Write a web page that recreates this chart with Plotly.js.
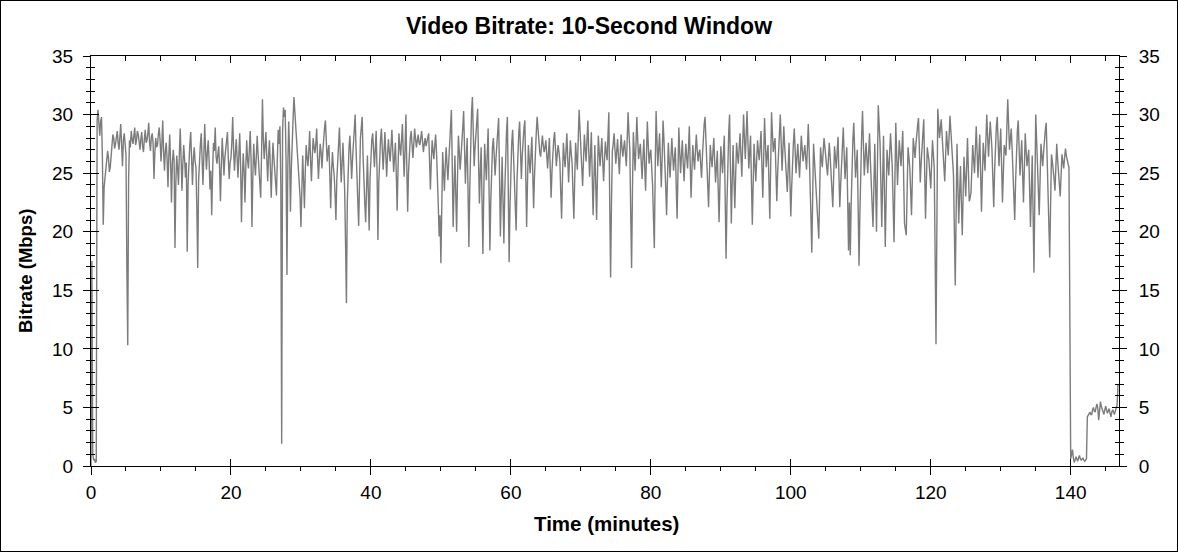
<!DOCTYPE html>
<html>
<head>
<meta charset="utf-8">
<script src="https://cdn.plot.ly/plotly-3.0.1.min.js"></script>
<style>
  html, body { margin: 0; padding: 0; background: #fff; }
  #wrap { position: relative; width: 1178px; height: 552px; }
  #chart { position: absolute; left: 0; top: 0; width: 1178px; height: 552px; }
  #frame { position: absolute; left: 0; top: 0; width: 1178px; height: 552px;
           box-sizing: border-box; border: 1px solid #000; pointer-events: none; }
</style>
</head>
<body>
<div id="wrap"><div id="chart"></div><div id="frame"></div></div>
<script>
// Video bitrate (Mbps), one sample every 7.5 s (0.125 min) (8 samples per minute per row)
const sampleStepMin = 0.125;
const bitrate = [
  0, 17.5, 1.0, 0.5, 0.6, 0.3, 0.4, 29.5,
  30.4, 29.1, 28.2, 29.4, 29.8, 26.5, 20.6, 23.8,
  24.5, 25.2, 25.8, 26.9, 26.3, 25.1, 25.5, 26.8,
  27.2, 28.3, 28.0, 27.1, 27.5, 28.2, 28.6, 27.6,
  27.0, 28.1, 29.2, 27.4, 25.6, 27.8, 28.4, 27.5,
  26.5, 17.0, 10.3, 24.5, 27.8, 27.2, 28.6, 27.9,
  27.5, 28.2, 28.9, 27.4, 27.8, 28.6, 28.3, 27.7,
  27.0, 27.9, 28.5, 27.3, 26.8, 27.9, 28.7, 27.6,
  27.8, 28.4, 29.3, 27.6, 26.9, 28.1, 28.4, 27.5,
  24.5, 26.8, 28.0, 27.2, 27.4, 28.3, 28.9, 27.8,
  26.0, 27.4, 29.5, 26.8, 25.2, 26.9, 27.6, 26.2,
  23.8, 26.5, 28.3, 25.9, 22.5, 25.8, 27.0, 26.1,
  18.6, 24.2, 26.5, 25.4, 24.0, 26.6, 28.8, 26.3,
  23.5, 25.8, 27.4, 26.2, 24.6, 25.9, 18.3, 24.1,
  26.8, 27.5, 28.5, 26.4, 24.0, 26.2, 27.2, 26.0,
  25.5, 22.0, 16.9, 24.3, 26.8, 27.4, 28.4, 26.7,
  24.0, 26.5, 29.2, 26.9, 25.3, 26.8, 27.8, 26.1,
  23.6, 25.2, 21.4, 25.0, 27.6, 26.9, 28.9, 26.4,
  25.8, 26.6, 27.3, 25.4, 22.6, 25.7, 28.0, 26.5,
  24.8, 26.3, 27.1, 27.8, 28.5, 26.2, 24.5, 25.9,
  26.3, 27.6, 29.8, 27.0, 25.2, 26.6, 27.9, 26.4,
  24.6, 26.5, 28.4, 25.8, 20.8, 24.4, 26.7, 25.3,
  22.5, 25.6, 27.8, 26.1, 25.4, 26.9, 28.6, 26.2,
  20.4, 24.6, 27.5, 25.9, 24.8, 26.5, 28.2, 26.6,
  25.6, 24.1, 22.9, 26.8, 31.3, 27.9, 26.2, 27.4,
  28.5, 26.2, 24.3, 26.5, 27.8, 25.6, 22.9, 25.4,
  27.6, 26.4, 25.4, 24.6, 23.1, 26.2, 28.7, 27.5,
  29.0, 24.0, 1.9, 28.5, 30.6, 29.8, 30.4, 26.0,
  16.3, 25.5, 29.4, 26.8, 21.7, 25.4, 28.8, 29.6,
  31.5, 30.2, 29.0, 27.8, 27.2, 25.9, 24.6, 23.0,
  20.4, 23.6, 26.5, 24.4, 22.0, 25.2, 27.4, 26.3,
  25.6, 26.9, 28.6, 26.1, 24.3, 26.4, 28.0, 27.2,
  26.7, 27.5, 28.8, 26.4, 24.5, 26.1, 27.5, 26.8,
  25.4, 26.8, 28.3, 28.9, 29.5, 27.4, 26.0, 26.9,
  27.4, 24.8, 22.0, 25.1, 26.8, 25.6, 24.8, 23.2,
  21.0, 24.4, 26.3, 27.5, 28.9, 26.5, 24.2, 25.8,
  27.6, 25.6, 23.5, 19.0, 13.9, 22.5, 26.4, 27.3,
  28.2, 26.4, 24.5, 26.2, 27.6, 28.8, 30.0, 27.1,
  24.0, 22.6, 20.5, 25.3, 28.0, 28.9, 29.8, 26.5,
  23.5, 22.4, 20.8, 24.1, 26.5, 23.4, 20.1, 24.6,
  27.2, 27.8, 28.4, 26.8, 25.5, 27.1, 28.6, 25.2,
  19.3, 24.2, 27.0, 27.9, 28.8, 26.9, 25.3, 26.9,
  28.5, 26.6, 24.7, 26.5, 27.9, 26.8, 26.0, 27.3,
  28.7, 26.9, 25.1, 26.4, 27.6, 24.9, 21.8, 25.4,
  28.4, 27.3, 26.5, 27.8, 29.2, 26.8, 24.7, 27.0,
  30.0, 25.6, 21.7, 25.1, 27.5, 28.0, 28.6, 27.4,
  26.3, 27.5, 28.8, 27.9, 27.2, 27.8, 28.3, 27.6,
  27.4, 28.0, 28.6, 27.7, 26.8, 27.5, 28.0, 27.3,
  27.6, 28.0, 28.4, 26.1, 23.6, 25.9, 27.8, 26.9,
  26.2, 27.4, 28.3, 26.8, 25.0, 22.3, 19.6, 21.4,
  17.3, 22.6, 26.8, 25.2, 23.5, 25.6, 27.2, 25.7,
  24.4, 26.0, 27.8, 29.2, 30.4, 25.5, 20.4, 23.7,
  26.5, 23.2, 20.0, 24.6, 28.2, 26.9, 25.3, 26.4,
  27.4, 28.9, 30.3, 27.0, 24.1, 26.2, 28.0, 23.5,
  18.7, 23.6, 28.3, 30.1, 31.5, 28.4, 25.6, 27.1,
  28.6, 29.5, 30.5, 26.3, 22.4, 25.0, 27.2, 22.8,
  18.1, 23.2, 27.5, 25.8, 24.4, 26.7, 28.8, 24.0,
  18.4, 22.5, 26.2, 27.3, 28.0, 26.2, 24.8, 26.3,
  27.6, 28.7, 29.7, 24.8, 19.6, 23.1, 26.4, 22.6,
  19.0, 23.4, 27.2, 28.5, 29.8, 23.3, 17.4, 22.2,
  26.8, 27.6, 28.7, 26.2, 24.0, 22.1, 20.1, 24.3,
  27.5, 28.4, 29.4, 26.8, 24.5, 26.5, 28.3, 28.9,
  29.5, 24.8, 20.4, 24.2, 27.4, 26.1, 25.0, 26.6,
  28.1, 25.0, 22.0, 24.8, 27.2, 28.4, 29.8, 28.5,
  27.5, 26.8, 26.4, 27.3, 28.2, 27.4, 26.8, 27.2,
  27.8, 26.5, 25.4, 26.8, 28.0, 25.4, 22.9, 25.2,
  27.1, 27.9, 28.5, 26.9, 25.6, 26.6, 27.4, 26.8,
  26.0, 23.4, 21.1, 24.6, 27.6, 26.4, 25.5, 26.9,
  28.4, 26.2, 24.2, 26.1, 27.8, 26.7, 25.8, 23.4,
  21.1, 24.5, 27.6, 26.3, 25.3, 27.9, 30.4, 28.8,
  27.6, 25.5, 23.9, 26.2, 28.3, 27.1, 26.0, 27.8,
  29.5, 26.9, 24.7, 26.5, 28.5, 24.8, 21.4, 24.6,
  27.4, 24.1, 21.0, 24.8, 28.2, 26.8, 25.6, 26.9,
  28.0, 26.0, 24.3, 26.1, 27.7, 26.8, 26.1, 28.2,
  30.2, 22.5, 16.1, 22.4, 26.9, 27.5, 28.4, 27.0,
  25.8, 26.9, 27.9, 26.3, 24.9, 26.7, 28.3, 27.2,
  26.4, 27.2, 27.8, 26.6, 25.6, 27.9, 30.2, 28.4,
  27.0, 21.5, 16.9, 23.6, 28.5, 26.8, 25.2, 27.4,
  29.8, 27.9, 26.2, 26.9, 27.5, 26.0, 24.5, 26.3,
  27.9, 25.6, 23.5, 26.4, 29.4, 27.5, 25.8, 26.6,
  27.0, 25.4, 24.0, 21.2, 18.6, 25.3, 30.3, 27.8,
  25.6, 27.1, 28.4, 26.0, 23.8, 26.6, 29.5, 27.8,
  26.3, 23.8, 21.4, 24.6, 27.6, 26.0, 24.6, 26.3,
  28.0, 26.5, 25.2, 26.3, 27.2, 24.0, 21.1, 25.0,
  28.9, 26.8, 25.0, 26.5, 27.8, 25.9, 24.3, 26.1,
  27.5, 26.3, 25.4, 27.1, 29.0, 25.8, 22.9, 25.4,
  27.4, 26.2, 25.3, 26.9, 28.3, 27.0, 26.0, 26.7,
  27.0, 25.7, 24.6, 26.5, 28.4, 29.2, 29.8, 27.6,
  25.8, 23.9, 22.1, 24.9, 27.4, 26.3, 25.5, 26.8,
  28.0, 26.0, 24.2, 25.6, 26.9, 23.7, 20.8, 24.1,
  27.3, 26.1, 25.0, 26.7, 28.2, 22.8, 17.7, 22.3,
  26.6, 28.4, 30.0, 25.1, 20.7, 24.2, 27.4, 24.6,
  22.0, 24.9, 27.6, 26.6, 25.8, 27.2, 28.4, 26.5,
  24.7, 27.4, 30.0, 28.0, 26.2, 28.3, 30.3, 27.7,
  25.4, 26.8, 28.2, 24.3, 20.6, 24.1, 27.5, 25.8,
  24.3, 26.1, 27.8, 26.8, 26.1, 27.4, 28.6, 25.6,
  22.9, 26.3, 29.7, 27.5, 25.5, 26.6, 27.4, 24.2,
  21.1, 25.6, 30.2, 28.4, 26.8, 27.5, 28.0, 25.2,
  22.6, 25.0, 27.3, 28.6, 30.0, 27.6, 25.2, 27.0,
  29.0, 27.3, 25.8, 24.6, 23.4, 25.5, 27.6, 24.3,
  21.3, 23.8, 26.4, 27.6, 28.8, 26.9, 25.0, 26.3,
  27.5, 26.0, 24.6, 26.4, 28.2, 27.1, 26.0, 26.7,
  27.4, 26.3, 25.3, 27.2, 29.2, 26.9, 24.8, 21.4,
  18.2, 22.9, 27.5, 26.2, 25.0, 23.5, 22.0, 20.6,
  19.4, 23.3, 27.2, 26.3, 25.5, 26.8, 28.0, 27.2,
  26.4, 25.6, 24.8, 26.2, 27.6, 26.4, 25.3, 23.6,
  22.1, 24.7, 27.3, 26.3, 25.4, 26.8, 28.1, 25.0,
  22.1, 24.0, 26.0, 27.5, 28.9, 26.6, 24.5, 25.9,
  27.2, 22.8, 18.4, 22.5, 18.0, 22.3, 26.5, 27.9,
  29.3, 26.9, 24.6, 25.8, 27.0, 22.0, 17.1, 21.6,
  26.2, 28.2, 30.3, 27.5, 24.8, 26.2, 27.6, 26.3,
  25.0, 26.7, 28.4, 26.0, 23.5, 22.0, 20.4, 23.9,
  27.5, 23.8, 20.0, 25.4, 30.8, 29.2, 27.6, 24.0,
  20.4, 24.3, 28.2, 23.5, 18.7, 22.9, 27.0, 25.9,
  24.8, 26.6, 28.4, 27.0, 25.5, 22.3, 19.1, 24.2,
  29.3, 26.7, 24.0, 25.9, 27.8, 26.7, 25.6, 27.1,
  28.6, 24.7, 20.7, 20.2, 19.7, 23.5, 27.2, 26.4,
  25.5, 23.5, 21.4, 24.7, 28.0, 27.2, 26.3, 27.4,
  28.5, 29.1, 29.7, 27.0, 24.2, 25.8, 27.4, 28.5,
  29.6, 25.4, 21.1, 24.2, 27.2, 26.6, 26.0, 24.8,
  23.7, 25.8, 27.8, 26.6, 25.4, 17.9, 10.4, 20.4,
  30.5, 29.3, 28.0, 28.8, 29.6, 28.2, 26.8, 25.6,
  24.3, 26.5, 28.6, 27.5, 26.5, 28.2, 29.9, 28.6,
  27.2, 26.0, 24.8, 20.1, 15.4, 21.5, 27.5, 24.1,
  20.7, 23.2, 25.6, 22.6, 19.7, 23.1, 26.4, 24.7,
  23.0, 25.5, 28.0, 25.3, 22.6, 22.9, 23.3, 25.4,
  27.4, 26.2, 25.0, 27.0, 29.0, 26.8, 24.6, 26.5,
  28.3, 25.0, 21.7, 24.7, 27.6, 26.4, 25.2, 27.6,
  30.0, 28.2, 26.4, 27.9, 29.4, 28.2, 27.0, 24.5,
  22.1, 25.2, 28.2, 29.0, 29.8, 27.7, 25.6, 27.2,
  28.8, 25.6, 22.5, 25.0, 27.4, 26.9, 26.5, 28.9,
  31.3, 29.2, 27.0, 27.9, 28.8, 27.1, 25.4, 23.2,
  21.0, 24.3, 27.6, 28.6, 29.5, 27.1, 24.8, 26.3,
  27.8, 25.1, 22.5, 25.4, 28.4, 27.0, 25.6, 26.3,
  27.0, 23.7, 20.4, 23.4, 26.5, 21.5, 16.5, 23.2,
  30.0, 27.9, 25.8, 23.6, 21.4, 24.5, 27.5, 26.5,
  25.6, 26.8, 28.0, 28.7, 29.3, 26.9, 24.5, 21.1,
  17.8, 22.2, 26.6, 26.0, 25.4, 24.5, 23.5, 25.5,
  27.5, 26.2, 24.8, 23.9, 23.0, 24.8, 26.6, 26.0,
  25.4, 26.3, 27.1, 26.5, 26.0, 25.8, 25.5, 9.2,
  0.6, 1.0, 1.4, 0.7, 0.3, 0.5, 0.8, 0.6,
  0.4, 0.7, 0.9, 0.6, 0.5, 0.6, 0.7, 0.5,
  0.4, 0.5, 0.6, 4.2, 4.3, 4.5, 4.6, 4.4,
  4.4, 4.8, 5.0, 4.7, 4.6, 5.0, 5.3, 4.9,
  3.9, 4.7, 5.5, 5.1, 4.8, 4.6, 4.4, 4.8,
  5.1, 4.8, 4.5, 4.7, 4.9, 4.5, 4.2, 4.6,
  4.8, 4.6, 4.4, 4.7, 5.0, 5.2, 6.9, 7.0
];
const timeMin = bitrate.map((_, i) => i * sampleStepMin);

const xTicks = [0, 20, 40, 60, 80, 100, 120, 140];
const yTicks = [0, 5, 10, 15, 20, 25, 30, 35];
const xRange = [0, 146.9];
const yRange = [0, 35];

const chartTitle = 'Video Bitrate: 10-Second Window';
const xTitle = 'Time (minutes)';
const yTitle = 'Bitrate (Mbps)';

const FONT = 'Arial, "Liberation Sans", Helvetica, sans-serif';
const tickFont = { family: FONT, size: 19, color: '#000' };

function xAx(extra) {
  return Object.assign({
    range: xRange, tickmode: 'array', tickvals: xTicks, ticktext: xTicks.map(String),
    showgrid: false, zeroline: false, tickcolor: '#000', tickwidth: 1,
    linecolor: '#000', linewidth: 1, fixedrange: true
  }, extra);
}
function yAx(extra) {
  return Object.assign({
    range: yRange, tickmode: 'array', tickvals: yTicks, ticktext: yTicks.map(String),
    showgrid: false, zeroline: false, tickcolor: '#000', tickwidth: 1,
    linecolor: '#000', linewidth: 1, fixedrange: true
  }, extra);
}

const traces = [
  { x: timeMin, y: bitrate, type: 'scatter', mode: 'lines',
    line: { color: '#7c7c7c', width: 1.4 }, hoverinfo: 'skip', xaxis: 'x', yaxis: 'y' },
  { x: [null], y: [null], type: 'scatter', mode: 'lines', xaxis: 'x2', yaxis: 'y2', hoverinfo: 'skip' },
  { x: [null], y: [null], type: 'scatter', mode: 'lines', xaxis: 'x3', yaxis: 'y3', hoverinfo: 'skip' },
  { x: [null], y: [null], type: 'scatter', mode: 'lines', xaxis: 'x', yaxis: 'y4', hoverinfo: 'skip' }
];

const PL = 91, PR = 1119, PT = 56, PB = 466;
const layout = {
  width: 1178, height: 552,
  margin: { l: PL, r: 1178 - PR, t: PT, b: 552 - PB, pad: 0 },
  paper_bgcolor: '#fff', plot_bgcolor: '#fff',
  showlegend: false,
  font: { family: FONT, color: '#000' },
  title: { text: '<b>' + chartTitle + '</b>', font: { family: FONT, size: 23, color: '#000' },
           x: 0.5, xanchor: 'center', xref: 'container', y: 1 - 26 / 552, yanchor: 'middle', yref: 'container' },
  annotations: [
    { text: '<b>' + xTitle + '</b>', xref: 'paper', yref: 'paper', showarrow: false,
      x: (606 - PL) / (PR - PL), y: (PB - 523) / (PB - PT), xanchor: 'center', yanchor: 'middle',
      font: { family: FONT, size: 20.5, color: '#000' } },
    { text: '<b>' + yTitle + '</b>', xref: 'paper', yref: 'paper', showarrow: false, textangle: -90,
      x: (25 - PL) / (PR - PL), y: (PB - 271) / (PB - PT), xanchor: 'center', yanchor: 'middle',
      font: { family: FONT, size: 18.5, color: '#000' } }
  ],
  xaxis: xAx({ side: 'bottom', anchor: 'y', showline: true, ticks: 'outside', ticklen: 8,
    tickfont: tickFont, ticklabelstandoff: 1,
    minor: { ticks: 'outside', ticklen: 4, tickmode: 'linear', tick0: 0, dtick: 5, tickcolor: '#000', showgrid: false } }),
  xaxis2: xAx({ side: 'bottom', anchor: 'y', overlaying: 'x', showline: false, ticks: 'inside', ticklen: 7,
    showticklabels: false }),
  xaxis3: xAx({ side: 'top', anchor: 'y', overlaying: 'x', showline: true, ticks: 'inside', ticklen: 7,
    showticklabels: false,
    minor: { ticks: 'inside', ticklen: 5, tickmode: 'linear', tick0: 0, dtick: 5, tickcolor: '#000', showgrid: false } }),
  yaxis: yAx({ side: 'left', anchor: 'x', showline: true, ticks: 'outside', ticklen: 7,
    tickfont: tickFont, ticklabelstandoff: 6,
    minor: { ticks: 'outside', ticklen: 4, tickmode: 'linear', tick0: 0, dtick: 1, tickcolor: '#000', showgrid: false } }),
  yaxis2: yAx({ side: 'left', anchor: 'x', overlaying: 'y', showline: false, ticks: 'inside', ticklen: 8,
    showticklabels: false,
    minor: { ticks: 'inside', ticklen: 4, tickmode: 'linear', tick0: 0, dtick: 1, tickcolor: '#000', showgrid: false } }),
  yaxis3: yAx({ side: 'right', anchor: 'x', overlaying: 'y', showline: true, ticks: 'outside', ticklen: 7,
    tickfont: tickFont, ticklabelstandoff: 8,
    minor: { ticks: 'outside', ticklen: 4, tickmode: 'linear', tick0: 0, dtick: 1, tickcolor: '#000', showgrid: false } }),
  yaxis4: yAx({ side: 'right', anchor: 'x', overlaying: 'y', showline: false, ticks: 'inside', ticklen: 7,
    showticklabels: false,
    minor: { ticks: 'inside', ticklen: 4, tickmode: 'linear', tick0: 0, dtick: 1, tickcolor: '#000', showgrid: false } })
};

Plotly.newPlot('chart', traces, layout, { displayModeBar: false, staticPlot: true, responsive: false });
</script>
</body>
</html>
